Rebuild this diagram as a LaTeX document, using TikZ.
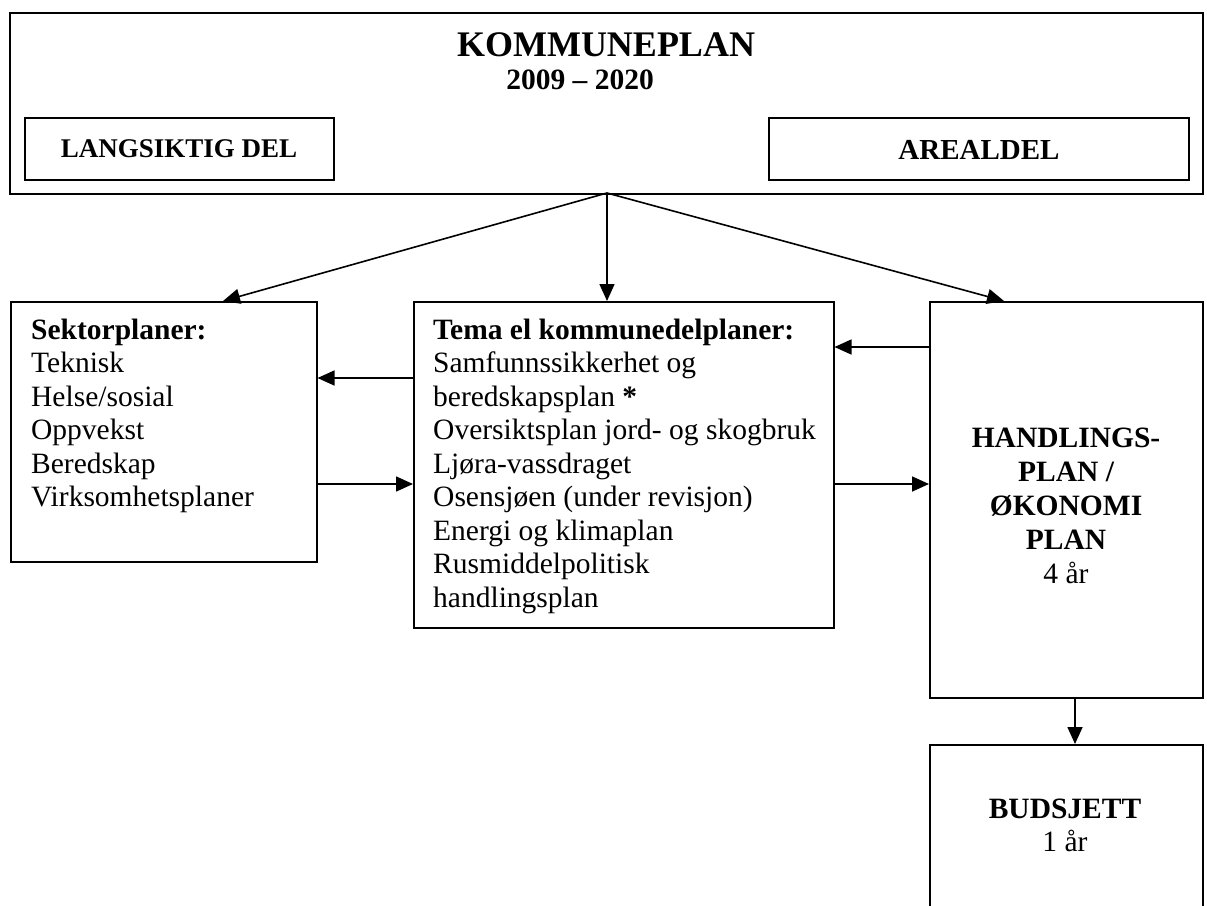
\documentclass[tikz,border=0pt]{standalone}
\usepackage{fontspec}
\setmainfont{Liberation Serif}
\usetikzlibrary{arrows.meta,calc}
\begin{document}
\begin{tikzpicture}[x=1pt,y=-1pt,
  box/.style={draw, line width=1.5pt, inner sep=0pt, anchor=north west},
  arr/.style={line width=1.6pt, -{Triangle[length=17pt,width=15pt]}},
  body/.style={font=\fontsize{29.5}{33.5}\selectfont, inner sep=0pt},
  bbody/.style={font=\fontsize{29.5}{33.5}\selectfont\bfseries, inner sep=0pt},
]
\clip (0,0) rectangle (1207,905);
\fill[white] (0,0) rectangle (1207,905);
% boxes
\node[box, minimum width=1193pt, minimum height=181pt] (kp) at (9,12) {};
\node[box, minimum width=309pt, minimum height=62pt] (lang) at (24,117) {};
\node[box, minimum width=420pt, minimum height=62pt] (areal) at (768,117) {};
\node[box, minimum width=306pt, minimum height=260pt] (sektor) at (10,301) {};
\node[box, minimum width=420pt, minimum height=326pt] (tema) at (413,301) {};
\node[box, minimum width=273pt, minimum height=396pt] (handl) at (929,301) {};
\node[box, minimum width=273pt, minimum height=200pt] (budsj) at (929,744) {};
% top texts
\node[font=\fontsize{36}{40}\selectfont\bfseries, inner sep=0pt, anchor=base] (t1) at (606,56) {KOMMUNEPLAN};
\node[bbody, anchor=base] (t2) at (580,89) {2009 – 2020};
\node[font=\fontsize{27}{30}\selectfont\bfseries, inner sep=0pt, anchor=base] (t3) at (179,157) {LANGSIKTIG DEL};
\node[font=\fontsize{29}{32}\selectfont\bfseries, inner sep=0pt, anchor=base] (t4) at (979,159) {AREALDEL};
% sektor texts
\foreach \t [count=\i from 0] in {{\textbf{Sektorplaner:}},{Teknisk},{Helse/sosial},{Oppvekst},{Beredskap},{Virksomhetsplaner}}
  \node[body, anchor=base west] (s\i) at (31, 339+33.5*\i) {\t};
% tema texts
\foreach \t [count=\i from 0] in {{\textbf{Tema el kommunedelplaner:}},{Samfunnssikkerhet og},{beredskapsplan \textbf{*}},{Oversiktsplan jord- og skogbruk},{Ljøra-vassdraget},{Osensjøen (under revisjon)},{Energi og klimaplan},{Rusmiddelpolitisk},{handlingsplan}}
  \node[body, anchor=base west] (m\i) at (433, 339+33.5*\i) {\t};
% handlingsplan texts
\node[bbody, anchor=base] (h0) at (1066,447) {HANDLINGS-};
\node[bbody, anchor=base] (h1) at (1066,481.5) {PLAN /};
\node[bbody, anchor=base] (h2) at (1066,515.5) {ØKONOMI};
\node[bbody, anchor=base] (h3) at (1066,549) {PLAN};
\node[body, anchor=base] (h4) at (1066,583) {4 år};
% budsjett texts
\node[bbody, anchor=base] (b0) at (1065,818) {BUDSJETT};
\node[body, anchor=base] (b1) at (1065,851) {1 år};
% connectors
\coordinate (o) at (607,193);
\draw[arr] (o) -- ($(sektor.north west)+(213,0)$);
\draw[arr] (o) -- (o |- tema.north);
\draw[arr] (o) -- ($(handl.north west)+(75,0)$);
\draw[arr] (tema.west |- 0,378) -- (sektor.east |- 0,378);
\draw[arr] (sektor.east |- 0,484) -- (tema.west |- 0,484);
\draw[arr] (handl.west |- 0,347) -- (tema.east |- 0,347);
\draw[arr] (tema.east |- 0,484) -- (handl.west |- 0,484);
\draw[arr] (handl.south -| 1075,0) -- (budsj.north -| 1075,0);
\end{tikzpicture}
\end{document}
